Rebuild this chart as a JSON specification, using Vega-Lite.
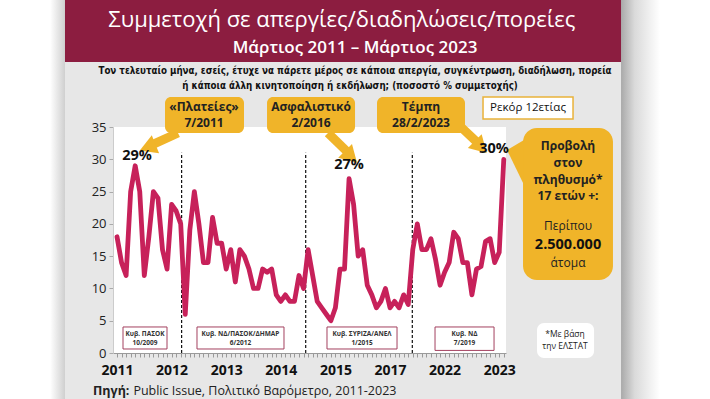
{
  "$schema": "https://vega.github.io/schema/vega-lite/v6.json",
  "width": 393,
  "height": 226,
  "autosize": {"type": "none"},
  "padding": {"left": 113, "top": 127, "right": 204, "bottom": 46},
  "background": "white",
  "config": {
    "view": {"stroke": null},
    "axis": {"grid": false, "title": null},
    "text": {"font": "Open Sans"}
  },
  "datasets": {
    "series": [
      {"x":1,"y":18},{"x":2,"y":14},{"x":3,"y":12},{"x":4,"y":25},{"x":5,"y":29},{"x":6,"y":25},{"x":7,"y":12},{"x":8,"y":18},{"x":9,"y":25},{"x":10,"y":24},
      {"x":11,"y":16},{"x":12,"y":13},{"x":13,"y":23},{"x":14,"y":22},{"x":15,"y":20},{"x":16,"y":6},{"x":17,"y":19},{"x":18,"y":25},{"x":19,"y":20},{"x":20,"y":14},
      {"x":21,"y":14},{"x":22,"y":21},{"x":23,"y":17},{"x":24,"y":17},{"x":25,"y":13},{"x":26,"y":16},{"x":27,"y":11},{"x":28,"y":16},{"x":29,"y":15},{"x":30,"y":13},
      {"x":31,"y":10},{"x":32,"y":10},{"x":33,"y":13},{"x":34,"y":12.5},{"x":35,"y":13},{"x":36,"y":9},{"x":37,"y":8},{"x":38,"y":9},{"x":39,"y":8},{"x":40,"y":8},
      {"x":41,"y":12},{"x":42,"y":10},{"x":43,"y":16},{"x":44,"y":12},{"x":45,"y":8},{"x":46,"y":7},{"x":47,"y":6},{"x":48,"y":5},{"x":49,"y":7},{"x":50,"y":13},
      {"x":51,"y":13},{"x":52,"y":27},{"x":53,"y":23},{"x":54,"y":15},{"x":55,"y":16},{"x":56,"y":10.5},{"x":57,"y":9},{"x":58,"y":7},{"x":59,"y":8},{"x":60,"y":10},
      {"x":61,"y":7},{"x":62,"y":8},{"x":63,"y":7},{"x":64,"y":9},{"x":65,"y":7.5},{"x":66,"y":16},{"x":67,"y":20},{"x":68,"y":16},{"x":69,"y":16},{"x":70,"y":17.7},
      {"x":71,"y":14.5},{"x":72,"y":10.5},{"x":73,"y":12.5},{"x":74,"y":14},{"x":75,"y":18.7},{"x":76,"y":17.7},{"x":77,"y":14},{"x":78,"y":14},{"x":79,"y":9},{"x":80,"y":13},
      {"x":81,"y":13.4},{"x":82,"y":17.3},{"x":83,"y":17.7},{"x":84,"y":14},{"x":85,"y":15.6},{"x":86,"y":30}
    ]
  },
  "encoding": {
    "x": {
      "field": "x", "type": "quantitative",
      "scale": {"domain": [0.12, 86.49], "nice": false, "zero": false},
      "axis": {
        "zindex": 2,
        "values": [1,2,3,4,5,6,7,8,9,10,11,12,13,14,15,16,17,18,19,20,21,22,23,24,25,26,27,28,29,30,31,32,33,34,35,36,37,38,39,40,41,42,43,44,45,46,47,48,49,50,51,52,53,54,55,56,57,58,59,60,61,62,63,64,65,66,67,68,69,70,71,72,73,74,75,76,77,78,79,80,81,82,83,84,85,86],
        "labelExpr": "datum.value==1?'2011':datum.value==13?'2012':datum.value==25?'2013':datum.value==37?'2014':datum.value==49?'2015':datum.value==61?'2017':datum.value==73?'2022':datum.value==85?'2023':''",
        "labelOverlap": false, "labelFlush": false, "labelBound": false,
        "labelFont": "Open Sans", "labelFontSize": 14, "labelFontWeight": "bold", "labelColor": "#111",
        "labelPadding": 6, "tickSize": 4, "tickColor": "#9a9a9a", "domainColor": "#9a9a9a"
      }
    },
    "y": {
      "field": "y", "type": "quantitative",
      "scale": {"domain": [0, 35], "nice": false, "zero": false},
      "axis": {
        "zindex": 2,
        "values": [0,5,10,15,20,25,30,35],
        "labelFont": "Open Sans", "labelFontSize": 13, "labelColor": "#222",
        "labelPadding": 3, "tickSize": 4, "tickColor": "#aaaaaa", "domainColor": "#cccccc"
      }
    }
  },
  "layer": [
    {
      "data": {"values": [{"x": -10.43, "x2": 111.77, "y": -7.2, "y2": 54.8}]},
      "mark": {"type": "rect", "color": "#e7e7e7"},
      "encoding": {"x2": {"field": "x2"}, "y2": {"field": "y2"}}
    },
    {
      "data": {"values": [{"x": 111.77, "x2": 120.3, "y": -7.2, "y2": 54.8}]},
      "mark": {"type": "rect", "color": {"gradient": "linear", "x1": 0, "x2": 1, "y1": 0, "y2": 0, "stops": [{"offset": 0, "color": "#a9a9a9"}, {"offset": 0.35, "color": "#dadada"}, {"offset": 1, "color": "#ffffff"}]}},
      "encoding": {"x2": {"field": "x2"}, "y2": {"field": "y2"}}
    },
    {
      "data": {"values": [{"x": -13.7, "x2": -10.43, "y": -7.2, "y2": 54.8}]},
      "mark": {"type": "rect", "color": {"gradient": "linear", "x1": 0, "x2": 1, "y1": 0, "y2": 0, "stops": [{"offset": 0, "color": "#ffffff"}, {"offset": 1, "color": "#cfcfcf"}]}},
      "encoding": {"x2": {"field": "x2"}, "y2": {"field": "y2"}}
    },
    {
      "data": {"values": [{"x": -10.43, "x2": 111.77, "y": 45.07, "y2": 54.8}]},
      "mark": {"type": "rect", "color": "#8c1d40"},
      "encoding": {"x2": {"field": "x2"}, "y2": {"field": "y2"}}
    },
    {
      "data": {"values": [{"x": 0.12, "x2": 86.49, "y": 0, "y2": 35}]},
      "mark": {"type": "rect", "color": "#ffffff"},
      "encoding": {"x2": {"field": "x2"}, "y2": {"field": "y2"}}
    },
    {
      "data": {"values": [{"x": 15.2, "y": 0, "y2": 31}, {"x": 42.47, "y": 0, "y2": 31}, {"x": 65.9, "y": 0, "y2": 31}]},
      "mark": {"type": "rule", "color": "#111", "strokeWidth": 1.2, "strokeDash": [3, 2]},
      "encoding": {"y2": {"field": "y2"}}
    },
    {
      "data": {"values": [
        {"x": 2.32, "x2": 11.99, "y": 0.62, "y2": 4.03},
        {"x": 18.58, "x2": 37.7, "y": 0.62, "y2": 4.03},
        {"x": 47.15, "x2": 62.54, "y": 0.62, "y2": 4.03},
        {"x": 70.89, "x2": 83.86, "y": 0.4, "y2": 4.03}
      ]},
      "mark": {"type": "rect", "fill": "#ffffff", "stroke": "#a3405f", "strokeWidth": 1},
      "encoding": {"x2": {"field": "x2"}, "y2": {"field": "y2"}}
    },
    {
      "data": {"values": [
        {"x": 7.15, "y": 2.94, "t": "Κυβ. ΠΑΣΟΚ"}, {"x": 7.15, "y": 1.55, "t": "10/2009"},
        {"x": 28.14, "y": 2.94, "t": "Κυβ. ΝΔ/ΠΑΣΟΚ/ΔΗΜΑΡ"}, {"x": 28.14, "y": 1.55, "t": "6/2012"},
        {"x": 54.85, "y": 2.94, "t": "Κυβ. ΣΥΡΙΖΑ/ΑΝΕΛ"}, {"x": 54.85, "y": 1.55, "t": "1/2015"},
        {"x": 77.37, "y": 2.94, "t": "Κυβ. ΝΔ"}, {"x": 77.37, "y": 1.55, "t": "7/2019"}
      ]},
      "mark": {"type": "text", "font": "Open Sans", "fontSize": 6.5, "fontWeight": "bold", "color": "#333", "baseline": "middle"},
      "encoding": {"text": {"field": "t"}}
    },
    {
      "data": {"name": "series"},
      "mark": {"type": "line", "color": "#c7215a", "strokeWidth": 4.8, "strokeJoin": "round", "strokeCap": "round"}
    },
    {
      "data": {"values": [
        {"x": 86.71, "y": 31.44, "y2": 31.44},
        {"x": 90.45, "y": 33.0, "y2": 26.0}
      ]},
      "mark": {"type": "area", "color": "#f0b429", "opacity": 1},
      "encoding": {"y2": {"field": "y2"}}
    },
    {
      "data": {"values": [
        {"x": 14.41, "y": 34.07, "g": "a"}, {"x": 8.9, "y": 32.3, "g": "a"},
        {"x": 47.37, "y": 34.07, "g": "b"}, {"x": 51.4, "y": 31.3, "g": "b"},
        {"x": 76.82, "y": 34.85, "g": "c"}, {"x": 79.9, "y": 32.8, "g": "c"}
      ]},
      "mark": {"type": "line", "color": "#f0b429", "strokeWidth": 9, "strokeCap": "butt"},
      "encoding": {"detail": {"field": "g"}}
    },
    {
      "data": {"values": [{"x": 8.3, "y": 32.0}]},
      "mark": {"type": "point", "shape": "triangle", "filled": true, "opacity": 1, "color": "#f0b429", "size": 380, "angle": 248}
    },
    {
      "data": {"values": [{"x": 52.0, "y": 30.7}, {"x": 80.5, "y": 32.2}]},
      "mark": {"type": "point", "shape": "triangle", "filled": true, "opacity": 1, "color": "#f0b429", "size": 380, "angle": 135}
    },
    {
      "data": {"values": [
        {"x": 11.55, "x2": 28.91, "y": 34.07, "y2": 39.65},
        {"x": 33.97, "x2": 53.31, "y": 34.07, "y2": 39.65},
        {"x": 58.14, "x2": 77.48, "y": 34.07, "y2": 39.65}
      ]},
      "mark": {"type": "rect", "color": "#f0b429", "cornerRadius": 6},
      "encoding": {"x2": {"field": "x2"}, "y2": {"field": "y2"}}
    },
    {
      "data": {"values": [{"x": 90.23, "x2": 110.0, "y": 11.31, "y2": 34.85}]},
      "mark": {"type": "rect", "color": "#f0b429", "cornerRadius": 14},
      "encoding": {"x2": {"field": "x2"}, "y2": {"field": "y2"}}
    },
    {
      "data": {"values": [{"x": 81.44, "x2": 101.22, "y": 36.24, "y2": 39.65}]},
      "mark": {"type": "rect", "fill": "#ffffff", "stroke": "#e9b23a", "strokeWidth": 1.5},
      "encoding": {"x2": {"field": "x2"}, "y2": {"field": "y2"}}
    },
    {
      "data": {"values": [{"x": 93.31, "x2": 105.84, "y": -0.77, "y2": 4.65}]},
      "mark": {"type": "rect", "color": "#ffffff", "cornerRadius": 7},
      "encoding": {"x2": {"field": "x2"}, "y2": {"field": "y2"}}
    },
    {
      "data": {"values": [{"x": 50.4, "y": 51.6, "t": "Συμμετοχή σε απεργίες/διαδηλώσεις/πορείες"}]},
      "mark": {"type": "text", "font": "Open Sans", "fontSize": 22, "color": "#ffffff", "baseline": "middle"},
      "encoding": {"text": {"field": "t"}}
    },
    {
      "data": {"values": [{"x": 53.31, "y": 47.2, "t": "Μάρτιος 2011 – Μάρτιος 2023"}]},
      "mark": {"type": "text", "font": "Open Sans", "fontSize": 17, "fontWeight": 600, "color": "#ffffff", "baseline": "middle"},
      "encoding": {"text": {"field": "t"}}
    },
    {
      "data": {"values": [
        {"x": 53.31, "y": 43.7, "t": "Τον τελευταίο μήνα, εσείς, έτυχε να πάρετε μέρος σε κάποια απεργία, συγκέντρωση, διαδήλωση, πορεία"},
        {"x": 52.21, "y": 41.3, "t": "ή κάποια άλλη κινητοποίηση ή εκδήλωση; (ποσοστό % συμμετοχής)"}
      ]},
      "mark": {"type": "text", "font": "Liberation Sans Narrow, DejaVu Sans Condensed", "fontSize": 9.7, "fontWeight": "bold", "color": "#111", "baseline": "middle"},
      "encoding": {"text": {"field": "t"}}
    },
    {
      "data": {"values": [
        {"x": 20.12, "y": 38.1, "t": "«Πλατείες»"}, {"x": 20.12, "y": 35.62, "t": "7/2011"},
        {"x": 43.64, "y": 38.1, "t": "Ασφαλιστικό"}, {"x": 43.64, "y": 35.62, "t": "2/2016"},
        {"x": 67.81, "y": 38.1, "t": "Τέμπη"}, {"x": 67.81, "y": 35.62, "t": "28/2/2023"}
      ]},
      "mark": {"type": "text", "font": "Open Sans", "fontSize": 12, "fontWeight": "bold", "color": "#222", "baseline": "middle"},
      "encoding": {"text": {"field": "t"}}
    },
    {
      "data": {"values": [{"x": 91.33, "y": 37.94, "t": "Ρεκόρ 12ετίας"}]},
      "mark": {"type": "text", "font": "Open Sans", "fontSize": 11.5, "color": "#111", "baseline": "middle"},
      "encoding": {"text": {"field": "t"}}
    },
    {
      "data": {"values": [
        {"x": 100.12, "y": 32.06, "t": "Προβολή"}, {"x": 100.12, "y": 29.43, "t": "στον"},
        {"x": 100.12, "y": 26.79, "t": "πληθυσμό*"}, {"x": 100.12, "y": 24.31, "t": "17 ετών +:"}
      ]},
      "mark": {"type": "text", "font": "Open Sans", "fontSize": 12, "fontWeight": "bold", "color": "#222", "baseline": "middle"},
      "encoding": {"text": {"field": "t"}}
    },
    {
      "data": {"values": [{"x": 100.12, "y": 19.67, "t": "Περίπου"}, {"x": 100.12, "y": 13.94, "t": "άτομα"}]},
      "mark": {"type": "text", "font": "Open Sans", "fontSize": 12, "color": "#222", "baseline": "middle"},
      "encoding": {"text": {"field": "t"}}
    },
    {
      "data": {"values": [{"x": 100.12, "y": 16.73, "t": "2.500.000"}]},
      "mark": {"type": "text", "font": "Open Sans", "fontSize": 14.5, "fontWeight": "bold", "color": "#111", "baseline": "middle"},
      "encoding": {"text": {"field": "t"}}
    },
    {
      "data": {"values": [{"x": 99.46, "y": 2.94, "t": "*Με βάση"}, {"x": 99.46, "y": 1.08, "t": "την ΕΛΣΤΑΤ"}]},
      "mark": {"type": "text", "font": "Open Sans", "fontSize": 8.5, "color": "#222", "baseline": "middle"},
      "encoding": {"text": {"field": "t"}}
    },
    {
      "data": {"values": [{"x": 5.4, "y": 30.51, "t": "29%"}, {"x": 51.99, "y": 29.12, "t": "27%"}, {"x": 83.86, "y": 31.59, "t": "30%"}]},
      "mark": {"type": "text", "font": "Open Sans", "fontSize": 14.5, "fontWeight": "bold", "color": "#111", "baseline": "middle"},
      "encoding": {"text": {"field": "t"}}
    },
    {
      "data": {"values": [{"x": -4.27, "y": -5.95, "t": "Πηγή:"}]},
      "mark": {"type": "text", "font": "Open Sans", "fontSize": 12.5, "fontWeight": "bold", "color": "#222", "align": "left", "baseline": "middle"},
      "encoding": {"text": {"field": "t"}}
    },
    {
      "data": {"values": [{"x": 4.6, "y": -5.95, "t": "Public Issue, Πολιτικό Βαρόμετρο, 2011-2023"}]},
      "mark": {"type": "text", "font": "Open Sans", "fontSize": 12.5, "color": "#222", "align": "left", "baseline": "middle"},
      "encoding": {"text": {"field": "t"}}
    }
  ]
}
